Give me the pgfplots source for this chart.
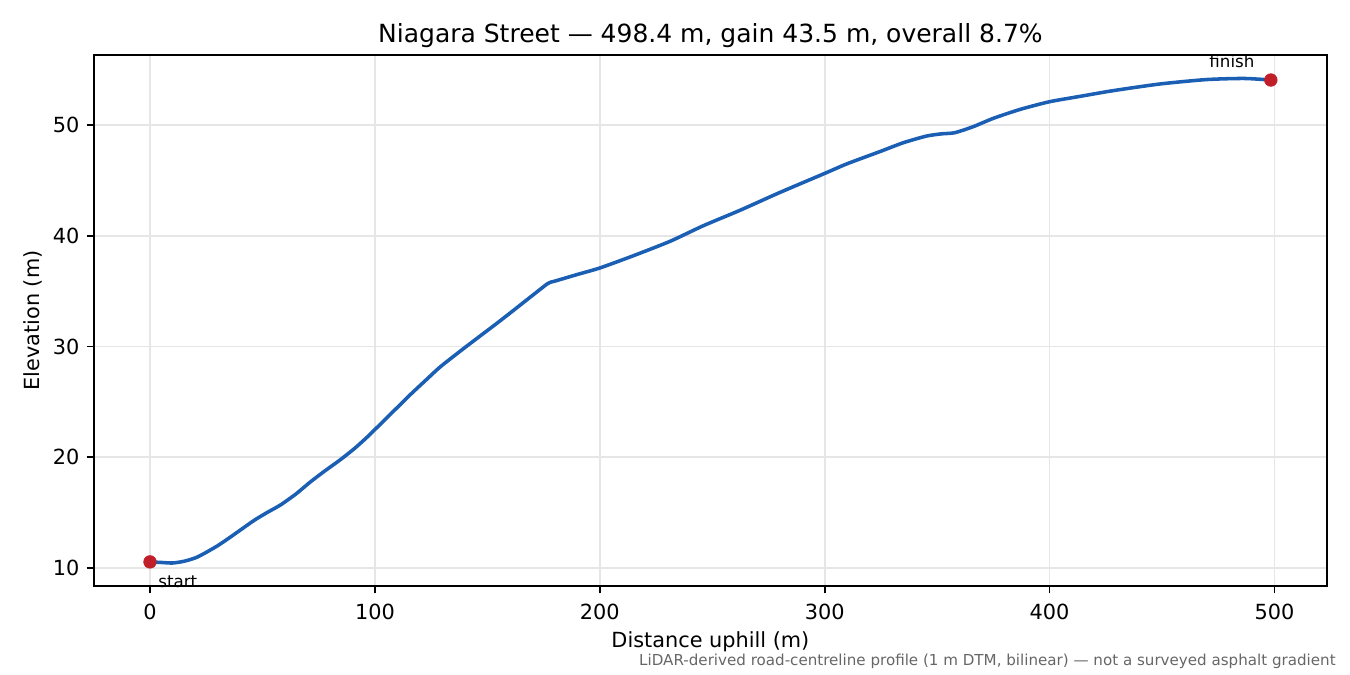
\documentclass[border=0pt]{standalone}
\usepackage{fontspec}
\setmainfont{DejaVu Sans}
\usepackage{pgfplots}
\pgfplotsset{compat=1.18}

\definecolor{lineblue}{HTML}{1B5FB4}
\definecolor{dotred}{HTML}{C01F2A}
\definecolor{gridgray}{HTML}{E6E6E6}
\definecolor{notegray}{HTML}{666666}

\begin{document}
\begin{tikzpicture}[x=1pt,y=1pt]
  % page = 1350x675 px at 150 dpi
  \path (0,0) rectangle (648,324);
  \begin{axis}[
      at={(45.1pt,42.7pt)}, anchor=south west,
      scale only axis,
      width=591.8pt, height=254.9pt,
      xmin=-24.92, xmax=523.32,
      ymin=8.37, ymax=56.32,
      xtick={0,100,200,300,400,500},
      ytick={10,20,30,40,50},
      tick align=outside,
      major tick length=3.5pt,
      tick style={black, line width=0.8pt},
      axis line style={line width=0.8pt},
      grid=major,
      grid style={gridgray, line width=0.8pt},
      xtick pos=bottom, ytick pos=left,
      /pgf/number format/assume math mode=true,
      ticklabel style={font=\fontsize{10}{12}\selectfont},
      xticklabel style={yshift=-1.5pt},
      title={Niagara Street — 498.4 m, gain 43.5 m, overall 8.7\%},
      title style={font=\fontsize{12}{14}\selectfont, yshift=-6pt},
      xlabel={Distance uphill (m)},
      ylabel={Elevation (m)},
      label style={font=\fontsize{10}{12}\selectfont},
      xlabel style={yshift=1.2pt},
      ylabel style={yshift=-2pt},
      clip=false,
  ]
  \addplot[color=lineblue, line width=1.7pt, smooth, tension=0.4] coordinates {
    (0,10.55)(5,10.5)(10,10.45)(15,10.6)(20,10.9)(24,11.3)(30,12.0)
    (34.4,12.6)(40,13.4)(46.3,14.3)(52,15.0)(58.1,15.7)(65,16.7)
    (71.5,17.8)(78,18.8)(84.8,19.8)(91,20.8)(97,21.9)(103,23.1)(109,24.3)
    (116,25.7)(123.4,27.1)(129.3,28.2)(140,29.9)(153,31.9)(160,33.0)
    (170,34.6)(177,35.7)(180,35.9)(190,36.5)(200.2,37.1)(215,38.2)
    (231.3,39.5)(246,40.9)(262.4,42.3)(280,43.9)(299.7,45.6)(310,46.5)
    (324.6,47.6)(335,48.4)(345.3,49.0)(352,49.2)(357.8,49.3)(366.1,49.85)
    (375,50.6)(386.8,51.4)(400,52.1)(414,52.6)(428.3,53.1)(449,53.7)
    (469.7,54.1)(486.4,54.2)(498.4,54.06)
  };
  \addplot[only marks, mark=*, mark size=3pt, color=dotred] coordinates {
    (0,10.55)(498.4,54.06)
  };
  \node[anchor=base west, font=\fontsize{8}{9.6}\selectfont, inner sep=0pt,
        xshift=3.8pt, yshift=-12.5pt] at (axis cs:0,10.55) {start};
  \node[anchor=base east, font=\fontsize{8}{9.6}\selectfont, inner sep=0pt,
        xshift=-7.7pt, yshift=5.8pt] at (axis cs:498.4,54.06) {finish};
  \end{axis}
  \node[anchor=base east, inner sep=0pt, text=notegray,
        font=\fontsize{7.25}{8.7}\selectfont] at (641.3,4.4)
    {LiDAR-derived road-centreline profile (1 m DTM, bilinear) — not a surveyed asphalt gradient};
\end{tikzpicture}
\end{document}
